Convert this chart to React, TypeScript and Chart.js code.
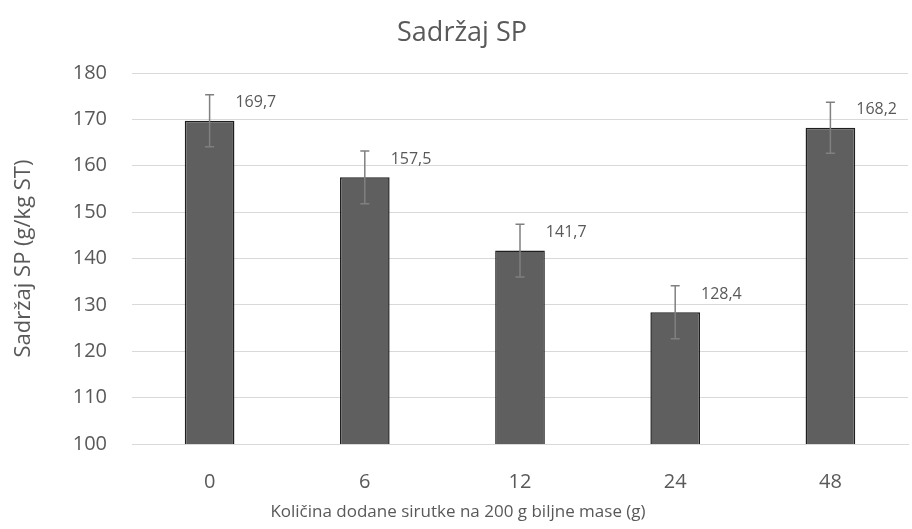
import React, { useEffect, useRef } from "react";
import { Chart, registerables } from "chart.js";

Chart.register(...registerables);

const categories = ["0", "6", "12", "24", "48"];
const values = [169.7, 157.5, 141.7, 128.4, 168.2];
const errors = [5.6, 5.7, 5.7, 5.7, 5.5];
const valueLabels = ["169,7", "157,5", "141,7", "128,4", "168,2"];
const yTicks = [100, 110, 120, 130, 140, 150, 160, 170, 180];
const chartTitle = "Sadržaj SP";
const xTitle = "Količina dodane sirutke na 200 g biljne mase (g)";

const TEXT = "#595959";
const FONT = "'Open Sans', sans-serif";

const extrasPlugin = {
  id: "extras",
  afterDatasetsDraw(chart: any) {
    const ctx = chart.ctx;
    const y = chart.scales.y;
    const meta = chart.getDatasetMeta(0);
    ctx.save();
    meta.data.forEach((bar: any, i: number) => {
      const x = bar.x;
      const yTop = y.getPixelForValue(values[i] + errors[i]);
      const yBot = y.getPixelForValue(values[i] - errors[i]);
      ctx.strokeStyle = "#808080";
      ctx.lineWidth = 1.5;
      ctx.beginPath();
      ctx.moveTo(x, yTop);
      ctx.lineTo(x, yBot);
      ctx.moveTo(x - 4.5, yTop);
      ctx.lineTo(x + 4.5, yTop);
      ctx.moveTo(x - 4.5, yBot);
      ctx.lineTo(x + 4.5, yBot);
      ctx.stroke();
    });
    ctx.fillStyle = TEXT;
    ctx.font = "16px " + FONT;
    ctx.textAlign = "left";
    ctx.textBaseline = "middle";
    meta.data.forEach((bar: any, i: number) => {
      const right = bar.x + bar.width / 2;
      ctx.fillText(valueLabels[i], right + 1, bar.y - 18);
    });
    ctx.textAlign = "center";
    // x-axis title centred on the whole chart
    ctx.font = "17px " + FONT;
    ctx.fillText(xTitle, chart.width / 2 + 2, 512);
    // chart title
    ctx.font = "27px " + FONT;
    ctx.fillText(chartTitle, chart.width / 2 + 6, 33);
    ctx.restore();
  },
};

export default function App() {
  const ref = useRef<HTMLCanvasElement | null>(null);
  useEffect(() => {
    if (!ref.current) return;
    const chart = new Chart(ref.current, {
      type: "bar",
      data: {
        labels: categories,
        datasets: [
          {
            data: values,
            backgroundColor: "#5f5f5f",
            borderColor: "#1f1f1f",
            borderWidth: 1.5,
            barPercentage: 0.32,
            categoryPercentage: 1,
          },
        ],
      },
      options: {
        animation: false,
        responsive: false,
        maintainAspectRatio: false,
        layout: { padding: { left: 0, right: 4, top: 73, bottom: 0 } },
        plugins: {
          legend: { display: false },
          tooltip: { enabled: false },
          title: { display: false },
        },
        scales: {
          x: {
            grid: { display: false },
            border: { display: true, color: "#d9d9d9", width: 1 },
            ticks: {
              color: TEXT,
              font: { family: FONT, size: 20 },
              padding: 18,
            },
            afterFit(scale: any) {
              scale.height = 85;
            },
          },
          y: {
            min: 100,
            max: 180,
            afterBuildTicks(scale: any) {
              scale.ticks = yTicks.map((v) => ({ value: v }));
            },
            grid: { color: "#d9d9d9", lineWidth: 1, drawTicks: false },
            border: { display: false },
            ticks: {
              color: TEXT,
              font: { family: FONT, size: 20 },
              padding: 25,
            },
            title: {
              display: true,
              text: "Sadržaj SP (g/kg ST)",
              color: TEXT,
              font: { family: FONT, size: 22 },
              padding: { top: 11, bottom: 0 },
            },
            afterFit(scale: any) {
              scale.width = 132;
            },
          },
        },
      },
      plugins: [extrasPlugin],
    });
    return () => chart.destroy();
  }, []);
  return (
    <div style={{ position: "fixed", left: 0, top: 0, width: 912, height: 529, background: "#fff" }}>
      <canvas ref={ref} width={912} height={529} />
    </div>
  );
}
